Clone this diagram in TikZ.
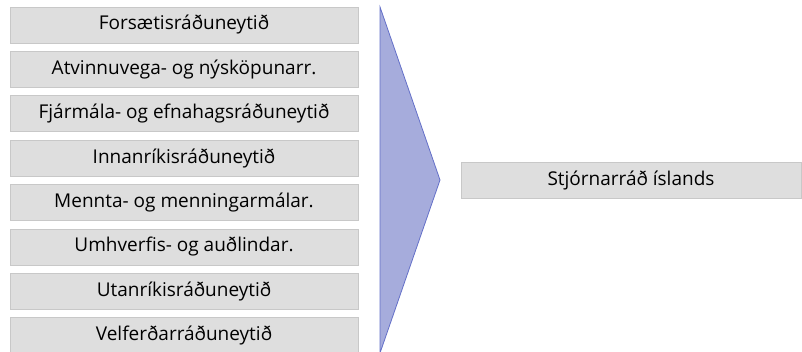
\documentclass[tikz,border=0pt]{standalone}
\usepackage{fontspec}
\setmainfont{Open Sans}
\definecolor{boxfill}{RGB}{222,222,222}
\definecolor{boxline}{RGB}{200,200,200}
\definecolor{arrfill}{RGB}{166,172,220}
\definecolor{arrline}{RGB}{100,112,200}
\begin{document}
\begin{tikzpicture}[x=1pt,y=-1pt,
  dept/.style={draw=boxline,fill=boxfill,line width=0.8pt,minimum width=348pt,minimum height=36pt,inner sep=0pt,font=\fontsize{19}{22}\selectfont,text=black},
  whole/.style={dept,minimum width=340pt}]
\useasboundingbox (0,0) rectangle (802,352);
\foreach \t [count=\i from 0] in {Forsætisráðuneytið,Atvinnuvega- og nýsköpunarr.,Fjármála- og efnahagsráðuneytið,Innanríkisráðuneytið,Mennta- og menningarmálar.,Umhverfis- og auðlindar.,Utanríkisráðuneytið,Velferðarráðuneytið}{
  \node[dept] (d\i) at (184,{25+44.4*\i}) {\t};
}
\coordinate (ta) at (380,7);
\coordinate (tb) at (440,180);
\coordinate (tc) at (380,353);
\fill[arrfill] (ta) -- (tb) -- (tc) -- cycle;
\draw[arrline,line width=0.8pt] (tc) -- (ta) -- (tb) -- (tc);
\node[whole] (s) at (631,180.5) {Stjórnarráð íslands};
\end{tikzpicture}
\end{document}
